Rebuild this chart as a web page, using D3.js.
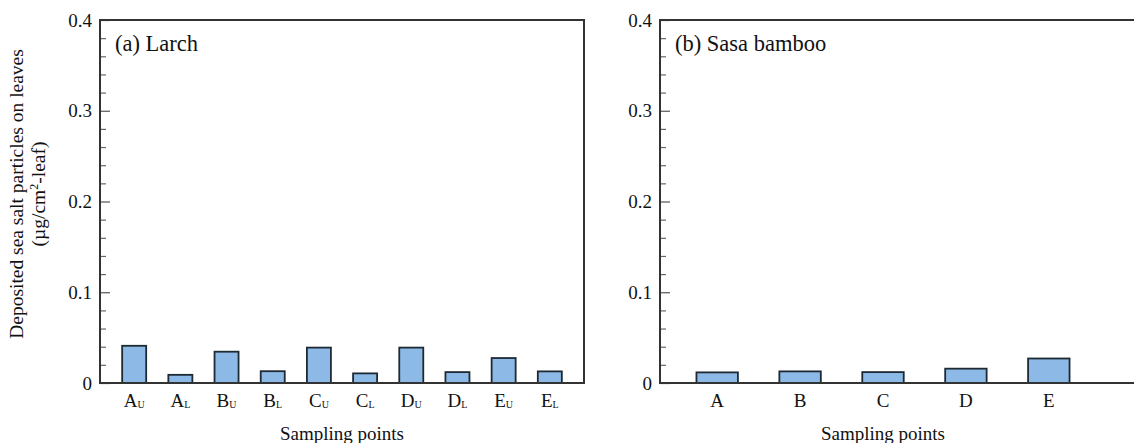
<!DOCTYPE html>
<html>
<head>
<meta charset="utf-8">
<script src="https://cdn.jsdelivr.net/npm/d3@7"></script>
<style>
  body { margin: 0; background: #fff; }
  text { font-family: "Liberation Serif", "Times New Roman", serif; fill: #111; }
</style>
</head>
<body>
<svg id="chart" width="1134" height="443"></svg>
<script>
// values (ug/cm2-leaf)
var larchCategories = ["AU", "AL", "BU", "BL", "CU", "CL", "DU", "DL", "EU", "EL"];
var larchValues = [0.041, 0.009, 0.0345, 0.013, 0.039, 0.0106, 0.039, 0.012, 0.0275, 0.0128];

var sasaCategories = ["A", "B", "C", "D", "E"];
var sasaValues = [0.0117, 0.0128, 0.012, 0.0158, 0.027];

var yTicks = [0, 0.1, 0.2, 0.3, 0.4];
var yMinorTicks = [0.02, 0.04, 0.06, 0.08, 0.12, 0.14, 0.16, 0.18, 0.22, 0.24, 0.26, 0.28, 0.32, 0.34, 0.36, 0.38];

var svg = d3.select("#chart");
var plotTop = 20, plotBottom = 383;
var barFill = "#8cb9e6";

var y = d3.scaleLinear().domain([0, 0.4]).range([plotBottom, plotTop]);

function drawPanel(left, right, bandRange, padding, categories, values, title) {

    var x = d3.scaleBand()
        .domain(categories)
        .range(bandRange)
        .padding(padding);

    var g = svg.append("g");

    // bars
    g.selectAll("rect.bar")
        .data(values)
        .enter()
        .append("rect")
        .attr("class", "bar")
        .attr("x", function (d, i) { return x(categories[i]); })
        .attr("y", function (d) { return y(d); })
        .attr("width", x.bandwidth())
        .attr("height", function (d) { return y(0) - y(d); })
        .attr("fill", barFill)
        .attr("stroke", "#1e2a33")
        .attr("stroke-width", 1.8);

    // minor ticks, pointing inside
    g.append("g")
        .attr("transform", "translate(" + left + ",0)")
        .call(d3.axisLeft(y).tickValues(yMinorTicks).tickSize(-6).tickFormat(""))
        .call(function (a) {
            a.select(".domain").remove();
            a.selectAll("line").attr("stroke", "#666").attr("stroke-width", 1.2);
        });

    // major ticks and labels
    g.append("g")
        .attr("transform", "translate(" + left + ",0)")
        .call(d3.axisLeft(y).tickValues(yTicks).tickSize(-10).tickPadding(8)
            .tickFormat(function (d) { return d == 0 ? "0" : d3.format(".1f")(d); }))
        .call(function (a) {
            a.select(".domain").remove();
            a.selectAll("line").attr("stroke", "#555").attr("stroke-width", 1.2);
            a.selectAll("text")
                .attr("font-size", 19)
                .attr("font-family", "Liberation Serif, serif")
                .attr("fill", "#111");
        });

    // frame
    g.append("path")
        .attr("d", "M" + left + "," + plotBottom + "V" + plotTop + "H" + right + "V" + plotBottom + "Z")
        .attr("fill", "none")
        .attr("stroke", "#333")
        .attr("stroke-width", 2);

    // x labels with subscripts
    var labels = g.selectAll("text.xlab")
        .data(categories)
        .enter()
        .append("text")
        .attr("class", "xlab")
        .attr("x", function (d) { return x(d) + x.bandwidth() / 2; })
        .attr("y", 407)
        .attr("text-anchor", "middle")
        .attr("font-size", 19);

    labels.append("tspan").text(function (d) { return d.charAt(0); });
    labels.append("tspan")
        .attr("font-size", 10)
        .attr("dy", 1)
        .text(function (d) { return d.slice(1); });

    // panel title
    g.append("text")
        .attr("x", left + 15)
        .attr("y", 51)
        .attr("font-size", 22.5)
        .text(title);

    // x axis title
    g.append("text")
        .attr("x", (bandRange[0] + bandRange[1]) / 2)
        .attr("y", 440)
        .attr("text-anchor", "middle")
        .attr("font-size", 19)
        .text("Sampling points");
}

drawPanel(100, 584, [100, 584], 0.48, larchCategories, larchValues, "(a) Larch");
drawPanel(660, 1145, [655, 1111], 0.5, sasaCategories, sasaValues, "(b) Sasa bamboo");

// y axis title, two lines
var yTitle = svg.append("text")
    .attr("transform", "translate(23,194) rotate(-90)")
    .attr("text-anchor", "middle")
    .attr("font-size", 19.5);

yTitle.append("tspan")
    .attr("x", 0)
    .attr("y", 0)
    .text("Deposited sea salt particles on leaves");

var line2 = yTitle.append("tspan")
    .attr("x", 0)
    .attr("y", 22);
line2.append("tspan").text("(\u00b5g/cm");
line2.append("tspan").attr("font-size", 12).attr("dy", -7).text("2");
line2.append("tspan").attr("dy", 7).text("-leaf)");
</script>
</body>
</html>
